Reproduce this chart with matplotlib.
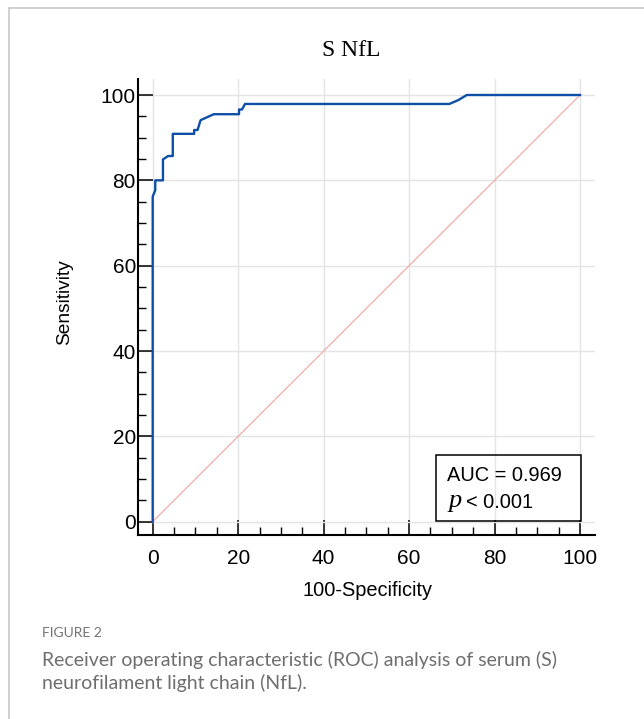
import matplotlib
matplotlib.use("Agg")
import matplotlib.pyplot as plt
from matplotlib.lines import Line2D
from matplotlib.patches import Rectangle

# ROC curve points (100-specificity vs sensitivity, %)
fpr = [0, 0, 0.6, 0.6, 2.4, 2.4, 3.6, 4.7, 4.7, 9.7, 9.7, 10.5, 11.2, 14.3,
       20.2, 20.2, 20.9, 21.6, 69.4, 71.5, 73.5, 100]
tpr = [0, 76.2, 77.7, 80.0, 80.0, 84.9, 85.7, 85.7, 90.9, 90.9, 91.8, 91.8,
       94.1, 95.5, 95.5, 96.6, 96.6, 97.9, 97.9, 98.8, 100, 100]
chance = [0, 100]
ticks = [0, 20, 40, 60, 80, 100]
minor_ticks = [v for v in range(0, 101, 5)]

title = "S NfL"
auc_text = "AUC = 0.969"
p_text = "< 0.001"
caption_head = "FIGURE 2"
caption = ("Receiver operating characteristic (ROC) analysis of serum (S)\n"
           "neurofilament light chain (NfL).")

plt.rcParams["font.family"] = ["Liberation Sans", "DejaVu Sans"]

W, H = 644, 719
fig = plt.figure(figsize=(W / 100, H / 100), dpi=100)

# page frame (light gray top and left rules)
fig.add_artist(Line2D([9 / W, 1], [1 - 7.5 / H] * 2, color="#c8c8c8", lw=1.2))
fig.add_artist(Line2D([9.3 / W] * 2, [0, 1 - 7.5 / H], color="#c8c8c8", lw=1.2))

ax = fig.add_axes([138 / W, 1 - 535 / H, 457 / W, 456 / H])
ax.set_xlim(-3.44, 103.5)
ax.set_ylim(-3.12, 103.75)

ax.grid(True, color="#e4e4e4", lw=1.0)
ax.set_axisbelow(True)

ax.plot(chance, chance, color="#f4a3a0", lw=0.8)
ax.plot(fpr, tpr, color="#0d4ea6", lw=1.7, solid_joinstyle="round")

for s in ["top", "right"]:
    ax.spines[s].set_visible(False)
for s in ["left", "bottom"]:
    ax.spines[s].set_linewidth(1.5)

ax.set_xticks(ticks)
ax.set_yticks(ticks)
ax.set_xticks(minor_ticks, minor=True)
ax.set_yticks(minor_ticks, minor=True)
ax.tick_params(which="major", direction="in", length=10.5, width=1.1,
               labelsize=15)
ax.tick_params(which="minor", direction="in", length=5.5, width=1.0)
ax.tick_params(axis="x", which="major", pad=10)
ax.tick_params(axis="y", which="major", pad=1.5)

# AUC box
ax.add_patch(Rectangle((66.3, 0.2), 33.9, 15.4, fill=False, ec="black",
                       lw=1.1, zorder=5))
ax.text(68.8, 10.9, auc_text, fontsize=14.4, va="center", ha="left")
ax.text(69.2, 4.8, "p", fontsize=19, va="center", ha="left",
        family="Liberation Serif", style="italic")
ax.text(73.4, 4.6, p_text, fontsize=14.4, va="center", ha="left")

fig.text(351 / W, 1 - 50 / H, title, family="Liberation Serif", fontsize=17,
         ha="center", va="center")
fig.text(367 / W, 1 - 591 / H, "100-Specificity", fontsize=14.4,
         ha="center", va="center")
fig.text(65 / W, 1 - 302 / H, "Sensitivity", fontsize=13.8, rotation=90,
         ha="center", va="center")

fig.text(42.5 / W, 1 - 633 / H, caption_head, family="Lato", fontsize=10,
         color="#737373", ha="left", va="center")
fig.text(42 / W, 1 - 651 / H, caption, family="Lato", fontsize=14,
         color="#6e6e6e", ha="left", va="top", linespacing=1.3)

fig.savefig("out.png", dpi=100)
